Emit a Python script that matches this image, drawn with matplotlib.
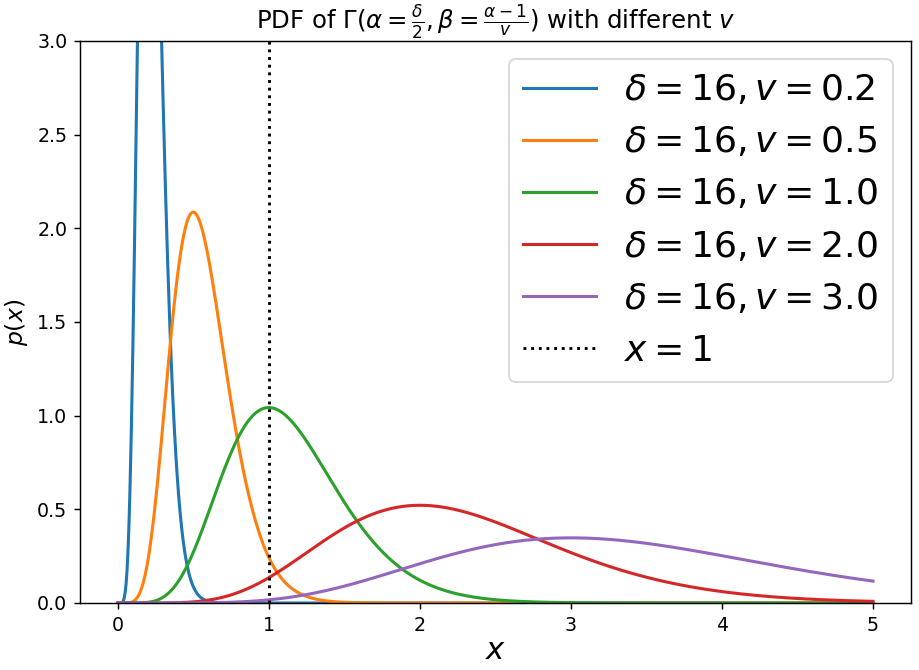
"""
    gamma pdf for several v, delta fixed
"""
import math
import numpy as np
import matplotlib
matplotlib.use('Agg')
import matplotlib.pyplot as plt

delta = 16
v_list = [0.2, 0.5, 1.0, 2.0, 3.0]
x_min, x_max = 0, 5
y_top = 3.0
vline_x = 1


def gamma_pdf(x, alpha, beta):
    # rate parametrisation, mode at (alpha-1)/beta
    logp = alpha * np.log(beta) + (alpha - 1) * np.log(np.maximum(x, 1e-300)) - beta * x - math.lgamma(alpha)
    p = np.exp(logp)
    p[x <= 0] = 0
    return p


def draw_chart():
    dpi = 130
    fig = plt.figure(figsize=(919 / dpi, 670 / dpi), dpi=dpi)
    ax = fig.add_axes([0.087, 0.1, 0.904, 0.839])

    x = np.linspace(x_min, x_max, 1000)
    alpha = delta / 2
    for v in v_list:
        beta = (alpha - 1) / v
        ax.plot(x, gamma_pdf(x, alpha, beta), lw=1.7, label=r'$\delta=%d, v=%.1f$' % (delta, v))

    ax.axvline(vline_x, color='k', linestyle=':', lw=1.6, label=r'$x=%d$' % vline_x)

    ax.set_ylim(0, y_top)
    ax.tick_params(labelsize=10.5)
    ax.set_xlabel(r'$x$', fontsize=17, labelpad=1)
    ax.set_ylabel(r'$p(x)$', fontsize=13)
    ax.set_title(r'PDF of $\Gamma(\alpha=\frac{\delta}{2},\beta=\frac{\alpha-1}{v})$ with different $v$', fontsize=13.5)
    ax.legend(fontsize=20, loc='upper right')
    fig.savefig('out.png', dpi=dpi)


def main():
    draw_chart()


if __name__ == '__main__':
    main()
